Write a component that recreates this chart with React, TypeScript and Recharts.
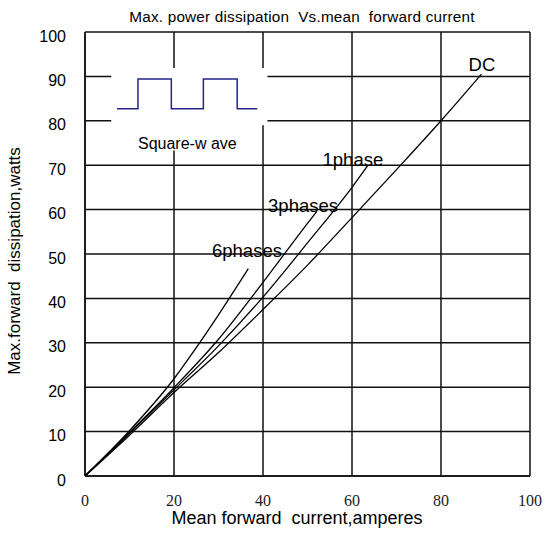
import React from 'react';
import {
  LineChart, Line, XAxis, YAxis, CartesianGrid, ReferenceArea, ReferenceDot,
} from 'recharts';

// current (A) vs dissipation (W)
const dcCurrent = [0, 10, 20, 30, 40, 50, 60, 70, 80, 89.1];
const dcWatts = [0, 9.2, 18.8, 27.8, 37.5, 47.5, 58.2, 69, 80, 90.5];

const onePhaseCurrent = [0, 10, 20, 30, 40, 50, 60, 63.6];
const onePhaseWatts = [0, 9.6, 19.4, 29.3, 40.3, 52.5, 65, 70];

const threePhaseCurrent = [0, 10, 20, 30, 40, 50, 52.1];
const threePhaseWatts = [0, 9.8, 19.9, 30.8, 43.6, 56.9, 59.6];

const sixPhaseCurrent = [0, 10, 20, 25, 30, 36.7];
const sixPhaseWatts = [0, 10.2, 21.9, 28.9, 36.3, 46.7];

// little square-wave sketch in the upper left
const waveX = [7.2, 11.9, 19.4, 26.6, 34.2, 38.7];
const waveY = [82.7, 89.4, 82.7, 89.4, 82.7, 82.7];

const xTicks = [0, 20, 40, 60, 80, 100];
const yTicks = [0, 10, 20, 30, 40, 50, 60, 70, 80, 90, 100];

const curveLabels = [
  { text: 'DC', x: 89.2, y: 92.6 },
  { text: '1phase', x: 60.2, y: 71.2 },
  { text: '3phases', x: 49, y: 61 },
  { text: '6phases', x: 36.4, y: 50.9 },
];

const toPoints = (xs: number[], ys: number[]) => xs.map((x, i) => ({ x, y: ys[i] }));

const SANS = 'Liberation Sans, Arial, sans-serif';
const SERIF = '"Liberation Serif", "DejaVu Serif", serif';

export default function App() {
  return (
    <div style={{ position: 'absolute', left: 0, top: 0, width: 545, height: 538, background: '#fff' }}>
      <div style={{
        position: 'absolute', left: 302, top: 8, transform: 'translateX(-50%)',
        fontFamily: SANS, fontSize: 15.3, letterSpacing: 0.2, whiteSpace: 'pre', color: '#000', lineHeight: '18px',
      }}>
        {'Max. power dissipation  Vs.mean  forward current'}
      </div>
      <div style={{
        position: 'absolute', left: 297, top: 507, transform: 'translateX(-50%)',
        fontFamily: SANS, fontSize: 18, whiteSpace: 'pre', color: '#000', lineHeight: '22px',
      }}>
        {'Mean forward  current,amperes'}
      </div>
      <div style={{
        position: 'absolute', left: 15, top: 261, transform: 'translate(-50%, -50%) rotate(-90deg)',
        fontFamily: SANS, fontSize: 17, whiteSpace: 'pre', color: '#000', lineHeight: '20px',
      }}>
        {'Max.forward  dissipation,watts'}
      </div>

      <LineChart width={545} height={538} margin={{ top: 32, right: 15, bottom: 0, left: 0 }}
        style={{ fontFamily: SANS }}>
        <CartesianGrid stroke="#111" strokeWidth={1.5} strokeDasharray="" />
        <XAxis type="number" dataKey="x" domain={[0, 100]} ticks={xTicks} height={62}
          tickSize={0} tickMargin={19} tickLine={false} axisLine={{ stroke: '#111', strokeWidth: 1.5 }}
          tick={{ fontSize: 16, fontFamily: SERIF, style: { fontFamily: SERIF }, fill: '#222' }} allowDataOverflow />
        <YAxis type="number" dataKey="y" domain={[0, 100]} ticks={yTicks} width={85}
          tickSize={0} tickMargin={19} tickLine={false} axisLine={{ stroke: '#111', strokeWidth: 1.5 }}
          tick={{ fontSize: 16, fontFamily: SANS, fill: '#000', dy: 4 }} allowDataOverflow />

        <ReferenceArea x1={5.9} x2={41} y1={79} y2={91.9} fill="#fff" fillOpacity={1} stroke="none" />
        <ReferenceArea x1={11.9} x2={34.3} y1={73.3} y2={79.1} fill="#fff" fillOpacity={1} stroke="none" />

        <Line data={toPoints(waveX, waveY)} dataKey="y" type="stepAfter" stroke="#24248c"
          strokeWidth={1.5} dot={false} isAnimationActive={false} />
        <Line data={toPoints(dcCurrent, dcWatts)} dataKey="y" type="monotone" stroke="#000"
          strokeWidth={1.3} dot={false} isAnimationActive={false} />
        <Line data={toPoints(onePhaseCurrent, onePhaseWatts)} dataKey="y" type="monotone" stroke="#000"
          strokeWidth={1.3} dot={false} isAnimationActive={false} />
        <Line data={toPoints(threePhaseCurrent, threePhaseWatts)} dataKey="y" type="monotone" stroke="#000"
          strokeWidth={1.3} dot={false} isAnimationActive={false} />
        <Line data={toPoints(sixPhaseCurrent, sixPhaseWatts)} dataKey="y" type="monotone" stroke="#000"
          strokeWidth={1.3} dot={false} isAnimationActive={false} />

        {curveLabels.map((l) => (
          <ReferenceDot key={l.text} x={l.x} y={l.y} r={0} stroke="none" fill="none"
            label={{ value: l.text, position: 'center', fontSize: 18.5, fontFamily: SANS, fill: '#000' }} />
        ))}
        <ReferenceDot x={23} y={74.9} r={0} stroke="none" fill="none"
          label={{ value: 'Square-w ave', position: 'center', fontSize: 16, fontFamily: SANS, fill: '#000' }} />
      </LineChart>
    </div>
  );
}
